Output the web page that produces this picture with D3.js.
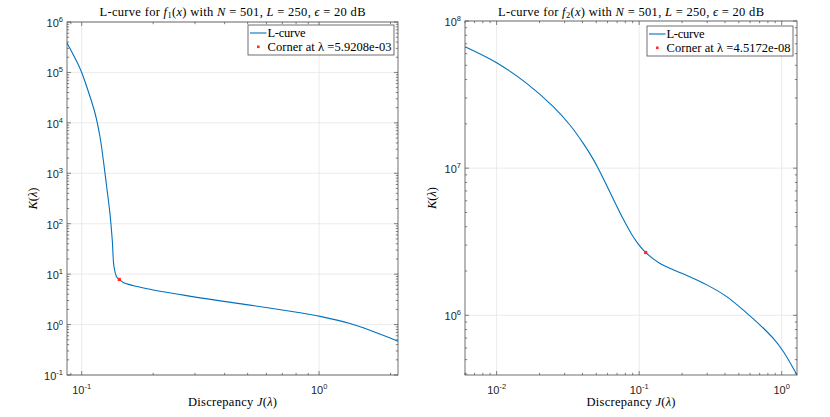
<!DOCTYPE html>
<html>
<head>
<meta charset="utf-8">
<script src="https://cdn.jsdelivr.net/npm/d3@7"></script>
<style>
  body { margin: 0; background: #fff; }
  .tick-label { font-family: "Liberation Sans", Arial, sans-serif; font-size: 11px; fill: #262626; }
  .tex { font-family: "Liberation Serif", "DejaVu Serif", serif; fill: #000; }
</style>
</head>
<body>
<div id="chart"></div>
<script>
// left panel: L-curve for f1
var jVals1 = [0.0867, 0.0984, 0.105, 0.1138, 0.1194, 0.1233, 0.1274, 0.1315, 0.1345, 0.1368, 0.1404, 0.144, 0.1496, 0.194, 0.3155, 0.512, 0.832, 1.01, 1.35, 1.69, 2.15];
var kVals1 = [3.85e5, 1.2e5, 5.2e4, 1.55e4, 5300, 1830, 540, 160, 47, 14, 8.8, 7.85, 6.84, 5.0, 3.39, 2.43, 1.71, 1.455, 1.05, 0.729, 0.469];
var corner1 = [0.144, 7.85];

// right panel: L-curve for f2
var jVals2 = [0.0060, 0.01, 0.01625, 0.02496, 0.03266, 0.04055, 0.04766, 0.05164, 0.05916, 0.0676, 0.0773, 0.0885, 0.0986, 0.1111, 0.140, 0.1988, 0.298, 0.411, 0.568, 0.705, 0.873, 1.026, 1.28];
var kVals2 = [6.69e7, 5.21e7, 3.77e7, 2.62e7, 1.965e7, 1.473e7, 1.147e7, 9.93e6, 7.63e6, 5.85e6, 4.51e6, 3.56e6, 3.05e6, 2.672e6, 2.25e6, 1.93e6, 1.61e6, 1.34e6, 1.036e6, 8.59e5, 6.96e5, 5.68e5, 3.93e5];
var corner2 = [0.1111, 2.672e6];

var xTicks1 = [-1, 0];
var yTicks1 = [-1, 0, 1, 2, 3, 4, 5, 6];
var xTicks2 = [-2, -1, 0];
var yTicks2 = [6, 7, 8];

var legendLabels1 = ["L-curve", "Corner at λ =5.9208e-03"];
var legendLabels2 = ["L-curve", "Corner at λ =4.5172e-08"];

var svg = d3.select("#chart").append("svg")
    .attr("width", 830)
    .attr("height", 417);

var lineColor = "#0072BD";

function drawPanel(cfg) {
  var xScale = d3.scaleLog().domain(cfg.xDomain).range([cfg.x0, cfg.x1]);
  var yScale = d3.scaleLog().domain(cfg.yDomain).range([cfg.y1, cfg.y0]);
  var g = svg.append("g");
  var w = cfg.x1 - cfg.x0, h = cfg.y1 - cfg.y0;

  // grid
  var xMajor = cfg.xTicks.map(function(e) { return Math.pow(10, e); });
  var yMajor = cfg.yTicks.map(function(e) { return Math.pow(10, e); });
  g.append("g").selectAll("line").data(xMajor).enter().append("line")
    .attr("x1", function(d) { return xScale(d); }).attr("x2", function(d) { return xScale(d); })
    .attr("y1", cfg.y0).attr("y2", cfg.y1)
    .attr("stroke", "#e6e6e6").attr("stroke-width", 0.8);
  g.append("g").selectAll("line").data(yMajor).enter().append("line")
    .attr("y1", function(d) { return yScale(d); }).attr("y2", function(d) { return yScale(d); })
    .attr("x1", cfg.x0).attr("x2", cfg.x1)
    .attr("stroke", "#e6e6e6").attr("stroke-width", 0.8);

  // minor ticks
  function minors(domain) {
    var out = [];
    var lo = Math.floor(Math.log10(domain[0])), hi = Math.ceil(Math.log10(domain[1]));
    for (var e = lo; e <= hi; e++) {
      for (var m = 2; m <= 9; m++) {
        var v = m * Math.pow(10, e);
        if (v >= domain[0] && v <= domain[1]) out.push(v);
      }
    }
    return out;
  }
  var xMinor = minors(cfg.xDomain), yMinor = minors(cfg.yDomain);
  var tickColor = "#4d4d4d";
  var tk = g.append("g").attr("stroke", tickColor).attr("stroke-width", 0.7);
  xMinor.forEach(function(v) {
    var x = xScale(v);
    tk.append("line").attr("x1", x).attr("x2", x).attr("y1", cfg.y1).attr("y2", cfg.y1 - 2.2);
    tk.append("line").attr("x1", x).attr("x2", x).attr("y1", cfg.y0).attr("y2", cfg.y0 + 2.2);
  });
  yMinor.forEach(function(v) {
    var y = yScale(v);
    tk.append("line").attr("y1", y).attr("y2", y).attr("x1", cfg.x0).attr("x2", cfg.x0 + 2.2);
    tk.append("line").attr("y1", y).attr("y2", y).attr("x1", cfg.x1).attr("x2", cfg.x1 - 2.2);
  });
  xMajor.forEach(function(v) {
    var x = xScale(v);
    tk.append("line").attr("x1", x).attr("x2", x).attr("y1", cfg.y1).attr("y2", cfg.y1 - 4);
    tk.append("line").attr("x1", x).attr("x2", x).attr("y1", cfg.y0).attr("y2", cfg.y0 + 4);
  });
  yMajor.forEach(function(v) {
    var y = yScale(v);
    tk.append("line").attr("y1", y).attr("y2", y).attr("x1", cfg.x0).attr("x2", cfg.x0 + 4);
    tk.append("line").attr("y1", y).attr("y2", y).attr("x1", cfg.x1).attr("x2", cfg.x1 - 4);
  });

  // tick labels
  cfg.xTicks.forEach(function(e) {
    var t = g.append("text").attr("class", "tick-label")
      .attr("x", xScale(Math.pow(10, e))).attr("y", cfg.y1 + 19)
      .attr("text-anchor", "middle");
    t.append("tspan").text("10");
    t.append("tspan").attr("dy", -5).attr("font-size", "7.5px").text(e < 0 ? "-" + (-e) : e);
  });
  cfg.yTicks.forEach(function(e) {
    var t = g.append("text").attr("class", "tick-label")
      .attr("x", cfg.x0 - 4).attr("y", yScale(Math.pow(10, e)) + 5)
      .attr("text-anchor", "end");
    t.append("tspan").text("10");
    t.append("tspan").attr("dy", -5).attr("font-size", "7.5px").text(e < 0 ? "-" + (-e) : e);
  });

  // curve
  var pts = cfg.jVals.map(function(d, i) { return [xScale(d), yScale(cfg.kVals[i])]; });
  g.append("path")
    .attr("d", d3.line().curve(d3.curveCatmullRom.alpha(0.5))(pts))
    .attr("fill", "none").attr("stroke", lineColor).attr("stroke-width", 1.1);

  // corner marker
  g.append("rect")
    .attr("x", xScale(cfg.corner[0]) - 1.6).attr("y", yScale(cfg.corner[1]) - 1.6)
    .attr("width", 3.2).attr("height", 3.2).attr("fill", "#ff2a2a");

  // box
  g.append("rect").attr("x", cfg.x0).attr("y", cfg.y0).attr("width", w).attr("height", h)
    .attr("fill", "none").attr("stroke", tickColor).attr("stroke-width", 0.8);

  // title
  var cx = (cfg.x0 + cfg.x1) / 2;
  var title = g.append("text").attr("class", "tex").attr("x", cx).attr("y", 16)
    .attr("text-anchor", "middle").attr("font-size", "12.5px")
    .attr("textLength", 266).attr("lengthAdjust", "spacing");
  title.append("tspan").text("L-curve for ");
  title.append("tspan").attr("font-style", "italic").text("f");
  title.append("tspan").attr("font-size", "8.5px").attr("dy", 2).text(cfg.sub);
  title.append("tspan").attr("dy", -2).text("(");
  title.append("tspan").attr("font-style", "italic").text("x");
  title.append("tspan").text(") with ");
  title.append("tspan").attr("font-style", "italic").text("N");
  title.append("tspan").text(" = 501,  ");
  title.append("tspan").attr("font-style", "italic").text("L");
  title.append("tspan").text(" = 250,  ");
  title.append("tspan").attr("font-style", "italic").text("ϵ");
  title.append("tspan").text(" = 20 dB");

  // x label
  var xl = g.append("text").attr("class", "tex").attr("x", cx).attr("y", 406)
    .attr("text-anchor", "middle").attr("font-size", "12.5px")
    .attr("textLength", 89).attr("lengthAdjust", "spacing");
  xl.append("tspan").text("Discrepancy ");
  xl.append("tspan").attr("font-style", "italic").text("J");
  xl.append("tspan").text("(");
  xl.append("tspan").attr("font-style", "italic").text("λ");
  xl.append("tspan").text(")");

  // y label
  var cy = (cfg.y0 + cfg.y1) / 2;
  var yl = g.append("text").attr("class", "tex")
    .attr("transform", "translate(" + cfg.yLabelX + "," + cy + ") rotate(-90)")
    .attr("text-anchor", "middle").attr("font-size", "12.5px");
  yl.append("tspan").attr("font-style", "italic").text("K");
  yl.append("tspan").text("(");
  yl.append("tspan").attr("font-style", "italic").text("λ");
  yl.append("tspan").text(")");

  // legend
  var lg = g.append("g");
  lg.append("rect").attr("x", cfg.legX).attr("y", cfg.legY).attr("width", 146).attr("height", 30)
    .attr("fill", "#fff").attr("stroke", tickColor).attr("stroke-width", 0.8);
  lg.append("line").attr("x1", cfg.legX + 2).attr("x2", cfg.legX + 18.5)
    .attr("y1", cfg.legY + 8).attr("y2", cfg.legY + 8)
    .attr("stroke", lineColor).attr("stroke-width", 1.1);
  lg.append("rect").attr("x", cfg.legX + 9).attr("y", cfg.legY + 20.5).attr("width", 2.6).attr("height", 2.6)
    .attr("fill", "#ff2a2a");
  var legW = [38, 124];
  cfg.legend.forEach(function(s, i) {
    lg.append("text").attr("class", "tex").attr("font-size", "12.5px")
      .attr("x", cfg.legX + 19.5).attr("y", cfg.legY + 12 + i * 13.5)
      .attr("textLength", legW[i]).attr("lengthAdjust", "spacing").text(s);
  });
}

drawPanel({
  x0: 67, x1: 398, y0: 22, y1: 375,
  xDomain: [0.0867, 2.15], yDomain: [0.1, 1e6],
  xTicks: xTicks1, yTicks: yTicks1,
  jVals: jVals1, kVals: kVals1, corner: corner1,
  sub: "1", yLabelX: 37, legX: 248, legY: 25, legend: legendLabels1
});

drawPanel({
  x0: 465, x1: 797, y0: 21, y1: 375,
  xDomain: [0.006, 1.28], yDomain: [3.93e5, 1e8],
  xTicks: xTicks2, yTicks: yTicks2,
  jVals: jVals2, kVals: kVals2, corner: corner2,
  sub: "2", yLabelX: 436, legX: 647, legY: 26, legend: legendLabels2
});
</script>
</body>
</html>
